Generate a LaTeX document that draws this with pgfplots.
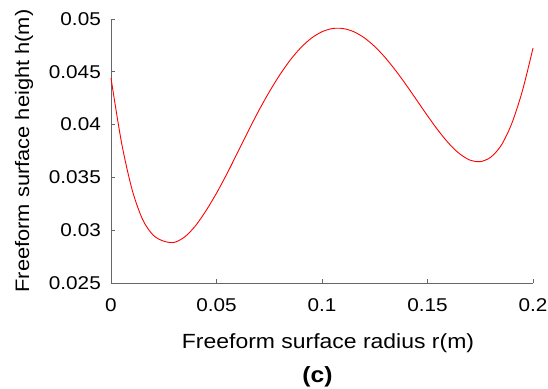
\documentclass[border=0pt]{standalone}
\usepackage{fontspec}
\setmainfont{Liberation Sans}[FakeStretch=1.12]
\usepackage{pgfplots}
\pgfplotsset{compat=1.18}
\begin{document}
\begin{tikzpicture}
\useasboundingbox (-111pt,-105pt) rectangle (437pt,283pt);
\begin{axis}[
  at={(0pt,0pt)}, anchor=south west,
  scale only axis, width=422pt, height=264pt,
  xmin=0, xmax=0.2, ymin=0.025, ymax=0.05,
  axis x line*=bottom, axis y line*=left,
  axis line style={draw=black!60, line width=0.9pt, -},
  tick align=inside, major tick length=4pt,
  tick style={draw=black!60, line width=0.7pt},
  scaled ticks=false,
  xtick={0,0.05,0.1,0.15,0.2},
  xticklabels={0,0.05,0.1,0.15,0.2},
  ytick={0.025,0.03,0.035,0.04,0.045,0.05},
  yticklabels={0.025,0.03,0.035,0.04,0.045,0.05},
  ticklabel style={font=\fontsize{18.5}{18.5}\selectfont, inner sep=0pt},
  xticklabel style={anchor=north, yshift=-15pt},
  yticklabel style={anchor=east, xshift=-10pt},
  xlabel={Freeform surface radius r(m)},
  ylabel={Freeform surface height h(m)},
  xlabel style={font=\fontsize{20.5}{20.5}\selectfont, at={(axis description cs:0.5142,-0.2462)}, anchor=base, inner sep=0pt},
  ylabel style={font=\fontsize{19.5}{19.5}\selectfont, at={(axis description cs:-0.1943,0.5)}, anchor=base, inner sep=0pt},
  clip=false,
]
\addplot[draw=red, line width=0.9pt, smooth] coordinates {
(0.000, 0.044400)
(0.005, 0.038281)
(0.010, 0.033840)
(0.015, 0.031008)
(0.020, 0.029532)
(0.025, 0.028960)
(0.030, 0.028851)
(0.035, 0.029375)
(0.040, 0.030408)
(0.045, 0.031837)
(0.050, 0.033505)
(0.055, 0.035365)
(0.060, 0.037359)
(0.065, 0.039368)
(0.070, 0.041309)
(0.075, 0.043092)
(0.080, 0.044712)
(0.085, 0.046124)
(0.090, 0.047292)
(0.095, 0.048188)
(0.100, 0.048793)
(0.105, 0.049097)
(0.110, 0.049096)
(0.115, 0.048801)
(0.120, 0.048224)
(0.125, 0.047392)
(0.130, 0.046335)
(0.135, 0.045097)
(0.140, 0.043727)
(0.145, 0.042285)
(0.150, 0.040837)
(0.155, 0.039461)
(0.160, 0.038240)
(0.165, 0.037270)
(0.170, 0.036650)
(0.175, 0.036494)
(0.180, 0.036919)
(0.185, 0.038055)
(0.190, 0.040138)
(0.195, 0.043215)
(0.200, 0.047237)
};
\node[anchor=base, inner sep=0pt, font=\bfseries\fontsize{22}{22}\selectfont] at (axis description cs:0.4893,-0.375) {(c)};
\end{axis}
\end{tikzpicture}
\end{document}
